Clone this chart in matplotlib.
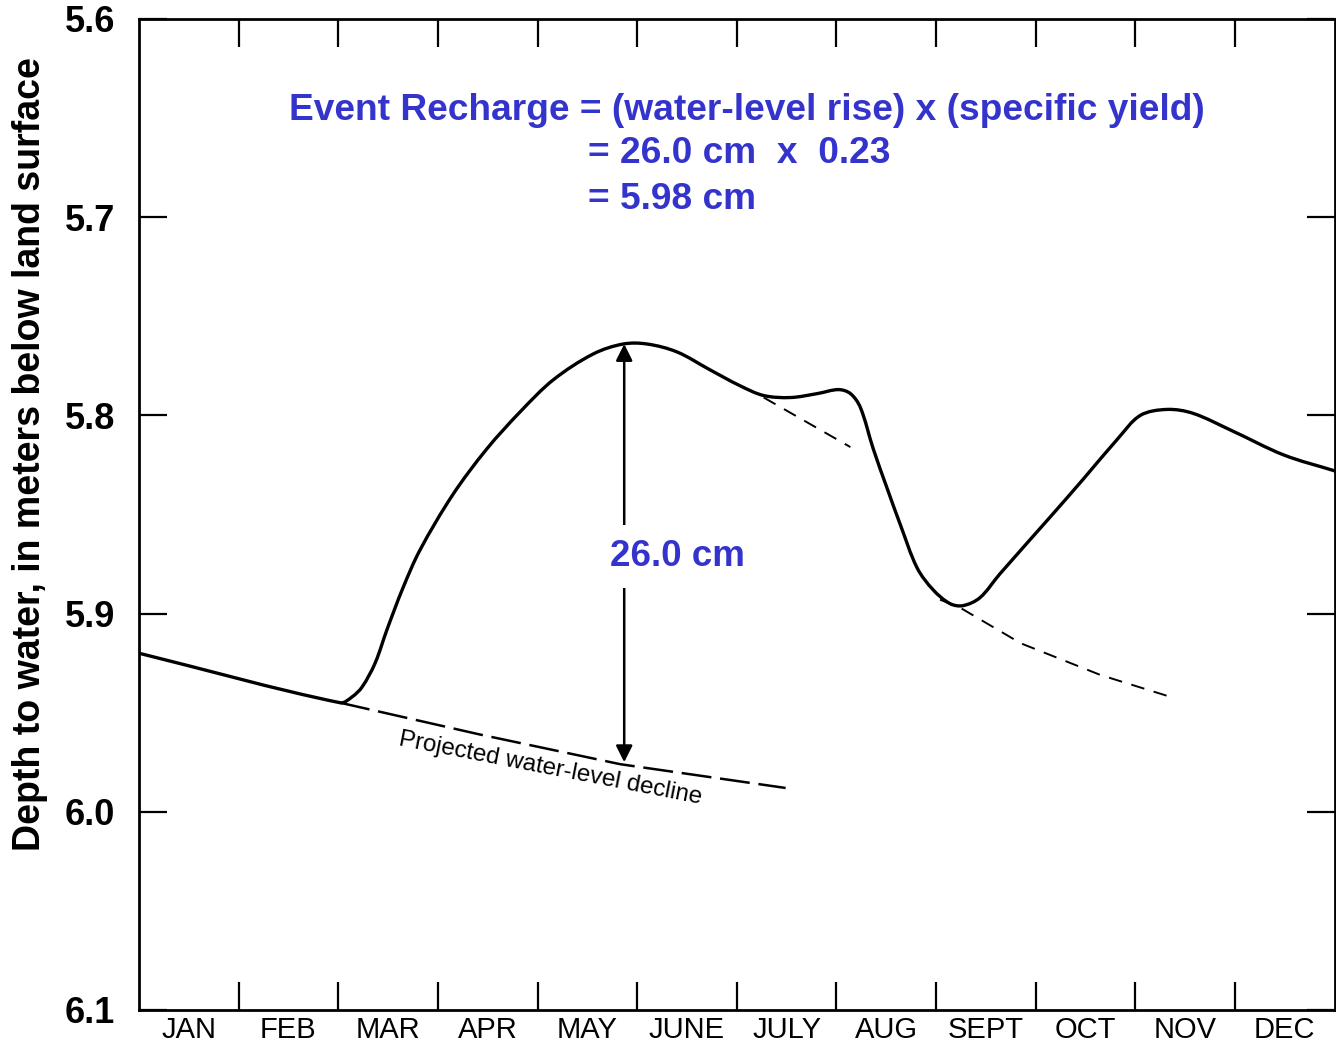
import numpy as np
import matplotlib.pyplot as plt
from matplotlib import font_manager
from matplotlib.path import Path
from matplotlib.patches import PathPatch

plt.rcParams['font.family'] = ['Liberation Sans', 'DejaVu Sans']

# month labels and depth ticks
months = ['JAN', 'FEB', 'MAR', 'APR', 'MAY', 'JUNE', 'JULY', 'AUG', 'SEPT', 'OCT', 'NOV', 'DEC']
depth_ticks = [5.6, 5.7, 5.8, 5.9, 6.0, 6.1]

# hydrograph, x in months from 1 Jan, y = depth in metres
hydro_x = [0.00, 2.02, 2.14, 2.24, 2.37, 2.49, 2.65, 2.82, 3.15, 3.49, 3.83, 4.16, 4.56,
           4.86, 5.10, 5.40, 5.73, 6.03, 6.27, 6.54, 6.81, 7.02, 7.14, 7.24, 7.37, 7.51,
           7.64, 7.81, 7.97, 8.14, 8.27, 8.44, 8.64, 9.15, 9.48, 9.82, 10.05, 10.32,
           10.58, 10.98, 11.49, 12.00]
hydro_y = [5.920, 5.945, 5.942, 5.937, 5.925, 5.908, 5.887, 5.868, 5.840, 5.817, 5.798,
           5.782, 5.769, 5.764, 5.764, 5.768, 5.777, 5.785, 5.790, 5.791, 5.789, 5.787,
           5.789, 5.796, 5.817, 5.837, 5.855, 5.877, 5.888, 5.895, 5.896, 5.892, 5.880,
           5.851, 5.832, 5.812, 5.800, 5.797, 5.799, 5.808, 5.820, 5.828]

# projected recession lines
proj_x = [2.02, 3.42, 4.83, 6.49]
proj_y = [5.945, 5.961, 5.976, 5.988]
rec1_x = [6.27, 7.14]
rec1_y = [5.791, 5.816]
rec2_x = [8.04, 8.24, 8.85, 9.65, 10.35]
rec2_y = [5.893, 5.897, 5.915, 5.931, 5.942]

# rise measured at the peak
rise_x = 4.87
rise_top = 5.764
rise_bottom = 5.975

blue = '#3434cc'


def smooth_path(ax, xs, ys):
    # smooth curve through the points as cubic beziers, chord-length tangents (display space)
    pts = ax.transData.transform(np.column_stack([xs, ys]))
    n = len(pts)
    d = np.hypot(*np.diff(pts, axis=0).T)
    tang = np.zeros_like(pts)
    for i in range(n):
        if i == 0:
            tang[i] = (pts[1] - pts[0]) / d[0]
        elif i == n - 1:
            tang[i] = (pts[-1] - pts[-2]) / d[-1]
        else:
            tang[i] = (pts[i + 1] - pts[i - 1]) / (d[i - 1] + d[i])
    verts = [pts[0]]
    codes = [Path.MOVETO]
    for i in range(n - 1):
        c1 = pts[i] + tang[i] * d[i] / 3.0
        c2 = pts[i + 1] - tang[i + 1] * d[i] / 3.0
        verts += [c1, c2, pts[i + 1]]
        codes += [Path.CURVE4] * 3
    return Path(verts, codes)


fig = plt.figure(figsize=(13.36, 10.48), dpi=100)
ax = fig.add_axes([0.104, 0.0363, 0.895, 0.9456])
ax.set_xlim(0, 12)
ax.set_ylim(6.1, 5.6)

hydro = PathPatch(smooth_path(ax, hydro_x, hydro_y), transform=None, facecolor='none',
                  edgecolor='black', lw=2.4, capstyle='round', joinstyle='round')
ax.add_patch(hydro)
hydro.set_clip_path(ax.patch)

ax.plot(proj_x, proj_y, color='black', lw=1.8, dashes=(12, 3.5))
ax.plot(rec1_x, rec1_y, color='black', lw=1.4, dashes=(7, 5))
ax.plot(rec2_x, rec2_y, color='black', lw=1.4, dashes=(7, 5))

ax.annotate('', xy=(rise_x, rise_top), xytext=(rise_x, rise_bottom),
            arrowprops=dict(arrowstyle='<|-|>', color='black', lw=1.8,
                            mutation_scale=25, shrinkA=0, shrinkB=0))
ax.text(5.40, 5.871, '26.0 cm', color=blue, fontsize=26.5, fontweight='bold',
        ha='center', va='center',
        bbox=dict(facecolor='white', edgecolor='none', pad=10))

ax.text(4.13, 5.978, 'Projected water-level decline', fontsize=17.4, rotation=-11,
        ha='center', va='center', rotation_mode='anchor')

ax.text(6.10, 5.646, 'Event Recharge = (water-level rise) x (specific yield)',
        color=blue, fontsize=26.7, fontweight='bold', ha='center', va='center')
ax.text(4.51, 5.668, '= 26.0 cm  x  0.23', color=blue, fontsize=26.7,
        fontweight='bold', ha='left', va='center')
ax.text(4.51, 5.691, '= 5.98 cm', color=blue, fontsize=26.7,
        fontweight='bold', ha='left', va='center')

ax.set_xticks(np.arange(1, 12))
ax.set_xticklabels([])
ax.set_xticks(np.arange(12) + 0.5, minor=True)
names = {f.name for f in font_manager.fontManager.ttflist}
if 'Liberation Sans Narrow' in names:
    ax.set_xticklabels(months, minor=True, fontsize=26, family='Liberation Sans Narrow')
else:
    ax.set_xticklabels(months, minor=True, fontsize=21)
ax.tick_params(axis='x', which='major', direction='in', length=20, width=1.6,
               top=True, bottom=True)
ax.tick_params(axis='x', which='minor', length=0, pad=4)

ax.set_yticks(depth_ticks)
ax.set_yticklabels([f'{v:.1f}' for v in depth_ticks], fontsize=26, fontweight='bold')
ax.tick_params(axis='y', direction='in', length=20, width=1.6, left=True, right=True, pad=17)

for s in ax.spines.values():
    s.set_linewidth(2)

ax.set_ylabel('Depth to water, in meters below land surface', fontsize=27,
              fontweight='bold', va='center')
ax.yaxis.set_label_coords(-0.091, 0.561)

fig.savefig('out.png', dpi=100)
